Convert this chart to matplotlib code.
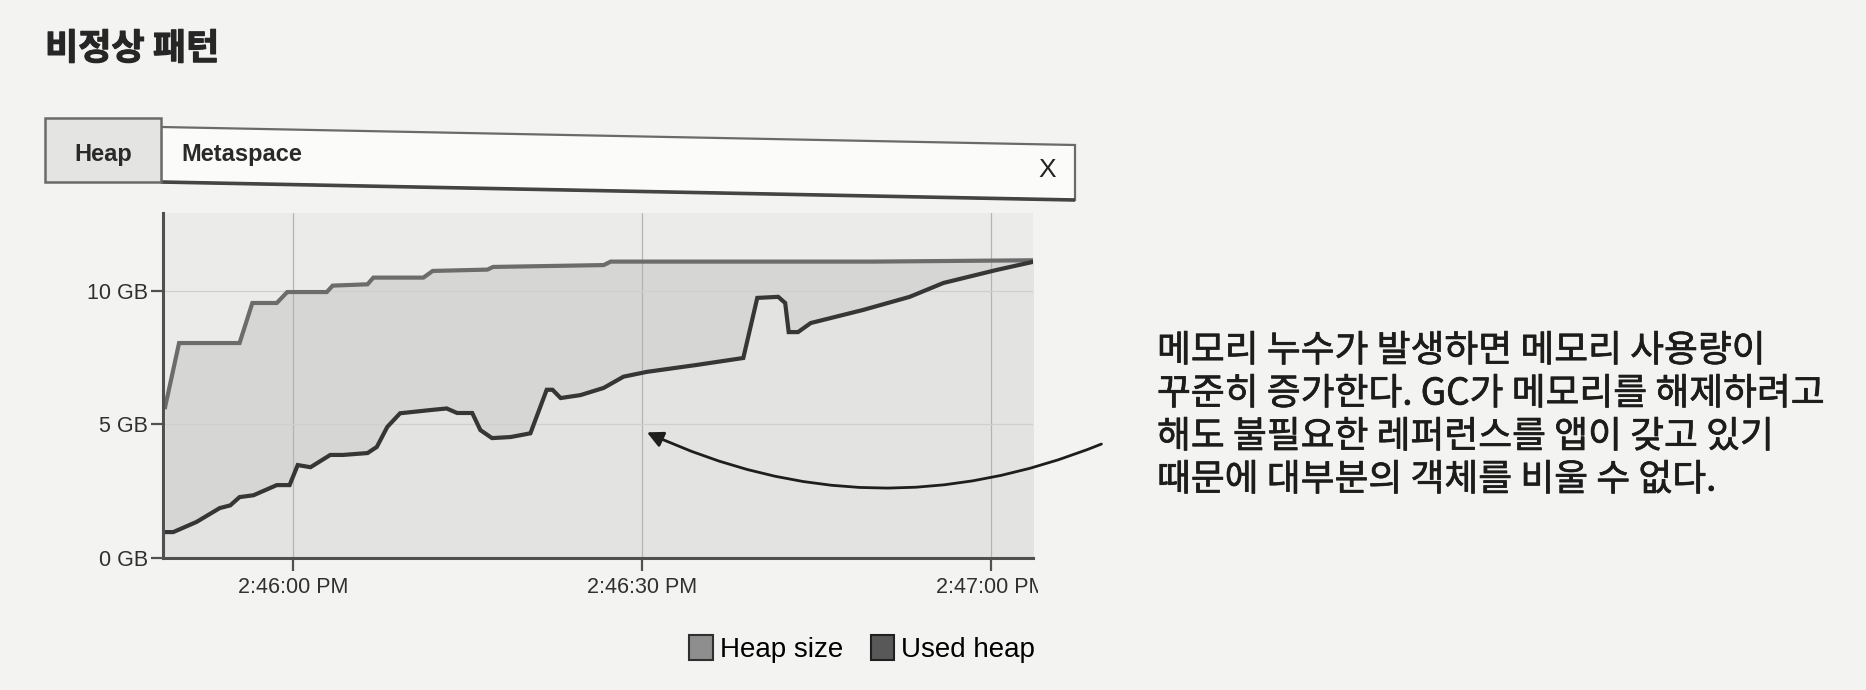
import matplotlib
matplotlib.use('Agg')
import matplotlib.pyplot as plt
import matplotlib.dates as mdates
import matplotlib.patheffects as pe
from matplotlib.patches import Rectangle, Polygon, Patch
from matplotlib.transforms import Bbox, TransformedBbox
from matplotlib.ticker import FuncFormatter, FixedLocator
import datetime as dt

# ---------------- data ----------------
title = "비정상 패턴"
tab_labels = ["Heap", "Metaspace"]
series_names = ["Heap size", "Used heap"]
y_ticks = [0, 5, 10]
y_tick_labels = ["0 GB", "5 GB", "10 GB"]
x_ticks_sec = [0, 30, 60]          # seconds after 2:46:00 PM

heap_t = [-11.0, -9.8, -4.6, -3.5, -1.4, -0.5, 2.9, 3.4, 6.4, 6.9, 11.2, 12.0,
          16.7, 17.2, 26.7, 27.3, 40.0, 50.0, 63.6]
heap_gb = [5.65, 8.05, 8.05, 9.55, 9.55, 9.96, 9.96, 10.2, 10.25, 10.5, 10.5, 10.75,
           10.8, 10.9, 10.97, 11.1, 11.1, 11.1, 11.15]

used_t = [-11.0, -10.3, -8.3, -6.3, -5.4, -4.6, -3.4, -1.4, -0.3, 0.4, 1.5, 3.2, 4.3,
          6.4, 7.2, 8.1, 9.2, 11.8, 13.2, 14.1, 15.4, 16.1, 17.1, 18.7, 20.4, 21.8,
          22.3, 23.0, 24.7, 26.7, 28.4, 30.4, 34.7, 38.7, 39.9, 41.7, 42.3, 42.6,
          43.4, 44.5, 49.0, 53.0, 55.9, 60.5, 63.6]
used_gb = [0.97, 0.97, 1.35, 1.87, 1.97, 2.28, 2.35, 2.73, 2.73, 3.48, 3.4, 3.86, 3.86,
           3.93, 4.16, 4.91, 5.42, 5.54, 5.6, 5.43, 5.43, 4.79, 4.49, 4.53, 4.67, 6.3,
           6.3, 5.99, 6.1, 6.37, 6.79, 6.97, 7.23, 7.49, 9.74, 9.78, 9.55, 8.46,
           8.46, 8.8, 9.29, 9.78, 10.3, 10.79, 11.09]

note_lines = ["메모리 누수가 발생하면 메모리 사용량이",
              "꾸준히 증가한다. GC가 메모리를 해제하려고",
              "해도 불필요한 레퍼런스를 앱이 갖고 있기",
              "때문에 대부분의 객체를 비울 수 없다."]
arrow_target_sec = 30.2
arrow_target_gb = 4.75

# ---------------- layout helpers ----------------
W, H = 1866, 690
DPI = 100
PAGE = '#f3f3f1'
KFONT = ['Noto Sans CJK KR', 'DejaVu Sans']
LFONT = ['Liberation Sans Narrow', 'Liberation Sans', 'DejaVu Sans']

def fx(px):
    return px / W

def fy(py):
    return 1 - py / H

base = dt.datetime(2020, 1, 1, 14, 46, 0)
def tsec(s):
    return base + dt.timedelta(seconds=s)

fig = plt.figure(figsize=(W / DPI, H / DPI), dpi=DPI, facecolor=PAGE)

# title
fig.text(fx(45), fy(49), title, fontsize=26, fontweight='bold', family=KFONT,
         color='#262626', ha='left', va='center',
         path_effects=[pe.withStroke(linewidth=0.8, foreground='#262626')])

# tab strip
strip = Polygon([(fx(161), fy(127)), (fx(1075), fy(145)), (fx(1075), fy(200)),
                 (fx(161), fy(182))], closed=True, transform=fig.transFigure,
                facecolor='#fbfbfa', edgecolor='#6a6a6a', lw=1.6)
fig.add_artist(strip)
fig.add_artist(Polygon([(fx(161), fy(182)), (fx(1075), fy(200))], closed=False,
                       transform=fig.transFigure, fill=False, edgecolor='#444', lw=2.6))
tab = Rectangle((fx(45), fy(182)), fx(116), 64 / H, transform=fig.transFigure,
                facecolor='#e4e4e2', edgecolor='#6a6a6a', lw=1.8)
fig.add_artist(tab)
fig.text(fx(103), fy(155), tab_labels[0], fontsize=17, fontweight='bold', family=LFONT,
         color='#2a2a2a', ha='center', va='center')
fig.text(fx(181), fy(155), tab_labels[1], fontsize=17, fontweight='bold', family=LFONT,
         color='#2a2a2a', ha='left', va='center')
fig.text(fx(1047), fy(170), "X", fontsize=19, family=LFONT, color='#222',
         ha='center', va='center')

# ---------------- chart ----------------
ax_l, ax_r, ax_t, ax_b = 163, 1033, 213, 558
ax = fig.add_axes([fx(ax_l), fy(ax_b), fx(ax_r - ax_l), (ax_b - ax_t) / H])
ax.set_facecolor('#ebebea')

ht = [tsec(s) for s in heap_t]
ut = [tsec(s) for s in used_t]

ax.fill_between(ht, 0, heap_gb, color='#d6d6d5', lw=0, zorder=1)
ax.fill_between(ut, 0, used_gb, color='#e3e3e2', lw=0, zorder=1.1)
ax.plot(ht, heap_gb, color='#6c6c6c', lw=3.0, zorder=3, solid_joinstyle='miter')
ax.plot(ut, used_gb, color='#363636', lw=3.0, zorder=3.1, solid_joinstyle='miter')

ax.set_xlim(tsec(-11.18), tsec(63.6))
ax.set_ylim(0, 12.92)

ax.xaxis.set_major_locator(FixedLocator([mdates.date2num(tsec(s)) for s in x_ticks_sec]))
ax.xaxis.set_major_formatter(FuncFormatter(
    lambda v, p: mdates.num2date(v).strftime('%I:%M:%S %p').lstrip('0')))
ax.set_yticks(y_ticks)
ax.set_yticklabels(y_tick_labels)

ax.set_axisbelow(False)
ax.grid(axis='x', color='#b4b4b4', lw=0.9, zorder=2)
ax.grid(axis='y', color='#cfcfcf', lw=0.9, zorder=2)

for s in ['top', 'right']:
    ax.spines[s].set_visible(False)
for s in ['left', 'bottom']:
    ax.spines[s].set_color('#505050')
    ax.spines[s].set_linewidth(2.2)
    ax.spines[s].set_zorder(4)

ax.tick_params(axis='both', direction='out', length=9, width=1.6, color='#505050',
               labelsize=15.5, labelcolor='#303030')
ax.tick_params(axis='x', pad=5)
ax.tick_params(axis='y', pad=2)
for lab in ax.get_xticklabels() + ax.get_yticklabels():
    lab.set_family(LFONT)

# clip the last x tick label at the chart's right edge
clip = TransformedBbox(Bbox([[0, 0], [fx(1038), 1]]), fig.transFigure)
for lab in ax.get_xticklabels():
    lab.set_clip_box(clip)
    lab.set_clip_on(True)

# legend
handles = [Patch(facecolor='#8e8e8e', edgecolor='#303030', lw=1.5),
           Patch(facecolor='#585858', edgecolor='#202020', lw=1.5)]
fig.legend(handles, series_names, loc='center', bbox_to_anchor=(fx(862), fy(649)),
           ncol=2, frameon=False, handlelength=0.85, handleheight=1.0,
           handletextpad=0.25, columnspacing=1.0,
           prop={'family': LFONT, 'size': 20})

# annotation text
for i, line in enumerate(note_lines):
    fig.text(fx(1157), fy(351 + 43 * i), line, fontsize=26.5, family=KFONT,
             color='#1c1c1c', ha='left', va='center',
             path_effects=[pe.withStroke(linewidth=0.5, foreground='#1c1c1c')])

# curved arrow
ax.annotate('', xy=(tsec(arrow_target_sec), arrow_target_gb),
            xytext=(fx(1104), fy(443)), textcoords='figure fraction',
            annotation_clip=False,
            arrowprops=dict(arrowstyle='-|>', color='#1e1e1e', lw=2.0,
                            mutation_scale=24,
                            connectionstyle='arc3,rad=-0.22'))

fig.savefig('out.png', dpi=DPI, facecolor=PAGE)
